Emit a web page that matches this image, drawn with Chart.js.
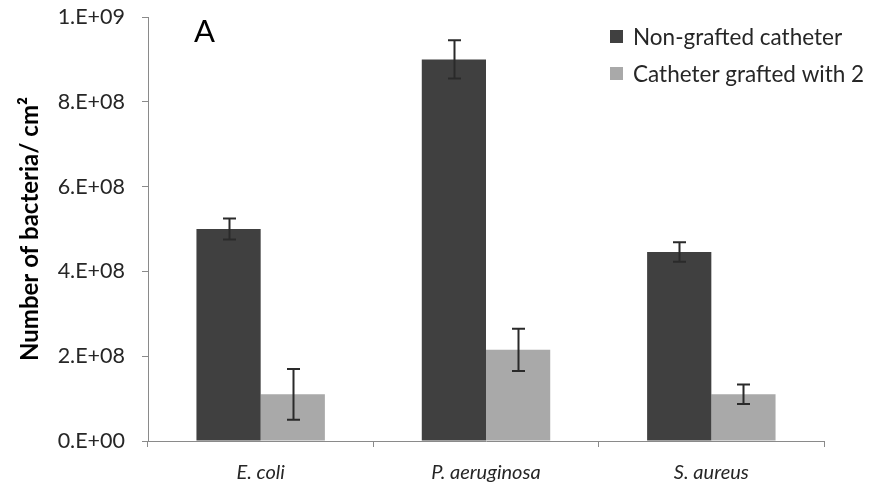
<!DOCTYPE html>
<html>
<head>
<meta charset="utf-8">
<script src="https://cdn.jsdelivr.net/npm/chart.js@4.4.1/dist/chart.umd.min.js"></script>
<style>
html,body{margin:0;padding:0;background:#fff;}
#wrap{position:relative;width:881px;height:491px;}
</style>
</head>
<body>
<div id="wrap"><canvas id="c" width="881" height="491"></canvas></div>
<script>
const categories = ['E. coli', 'P. aeruginosa', 'S. aureus'];
const seriesNames = ['Non-grafted catheter', 'Catheter grafted with 2'];
const nonGrafted = [5.0e8, 9.0e8, 4.46e8];
const nonGraftedErr = [2.5e7, 4.5e7, 2.3e7];
const grafted = [1.1e8, 2.15e8, 1.1e8];
const graftedErr = [6.0e7, 5.0e7, 2.3e7];
const yTickValues = [0, 2e8, 4e8, 6e8, 8e8, 1e9];
const yTickLabels = ['0.E+00', '2.E+08', '4.E+08', '6.E+08', '8.E+08', '1.E+09'];
const yTitle = 'Number of bacteria/ cm²';
const panelLabel = 'A';

const DARK = '#404040';
const LIGHT = '#a9a9a9';
const AXIS = '#8a8a8a';
const FONT = 'Lato, "Open Sans", sans-serif';

const errorBars = {
  id: 'errorBars',
  afterDatasetsDraw(chart) {
    const ctx = chart.ctx;
    const y = chart.scales.y;
    ctx.save();
    ctx.strokeStyle = '#2a2a2a';
    ctx.lineWidth = 2;
    chart.data.datasets.forEach((ds, di) => {
      const meta = chart.getDatasetMeta(di);
      meta.data.forEach((bar, i) => {
        const v = ds.data[i], e = ds.errors[i];
        const x = Math.round(bar.x) + 0.5;
        const yt = y.getPixelForValue(v + e);
        const yb = y.getPixelForValue(v - e);
        const cap = 6.5;
        ctx.beginPath();
        ctx.moveTo(x, yt); ctx.lineTo(x, yb);
        ctx.moveTo(x - cap, yt); ctx.lineTo(x + cap, yt);
        ctx.moveTo(x - cap, yb); ctx.lineTo(x + cap, yb);
        ctx.stroke();
      });
    });
    ctx.restore();
  }
};

const decorations = {
  id: 'decorations',
  afterDraw(chart) {
    const ctx = chart.ctx;
    ctx.save();
    ctx.fillStyle = '#000';
    ctx.font = '31px ' + FONT;
    ctx.textBaseline = 'alphabetic';
    ctx.textAlign = 'left';
    ctx.fillText(panelLabel, 194, 42);
    const colors = [DARK, LIGHT];
    const ys = [36.5, 73.5];
    ctx.font = '22.5px ' + FONT;
    ctx.textBaseline = 'middle';
    seriesNames.forEach((name, i) => {
      ctx.fillStyle = colors[i];
      ctx.fillRect(610, ys[i] - 6.5, 13, 13);
      ctx.fillStyle = '#262626';
      ctx.fillText(name, 633, ys[i] + 1);
    });
    ctx.restore();
  }
};

new Chart(document.getElementById('c'), {
  type: 'bar',
  data: {
    labels: categories,
    datasets: [
      { label: seriesNames[0], data: nonGrafted, errors: nonGraftedErr, backgroundColor: DARK, borderWidth: 0 },
      { label: seriesNames[1], data: grafted, errors: graftedErr, backgroundColor: LIGHT, borderWidth: 0 }
    ]
  },
  options: {
    responsive: false,
    animation: false,
    devicePixelRatio: 1,
    categoryPercentage: 0.57,
    barPercentage: 1.0,
    layout: { padding: { top: 17, right: 57, bottom: 0, left: 0 } },
    plugins: { legend: { display: false }, tooltip: { enabled: false } },
    scales: {
      x: {
        grid: { display: true, drawOnChartArea: false, drawTicks: true, tickLength: 6, color: AXIS, offset: true },
        border: { display: true, color: AXIS, width: 1 },
        ticks: { color: '#262626', padding: 14, font: { family: FONT, size: 20, style: 'italic' } },
        afterFit(s) { s.height = 50; }
      },
      y: {
        min: 0, max: 1e9,
        afterBuildTicks(s) { s.ticks = yTickValues.map(v => ({ value: v })); },
        grid: { display: true, drawOnChartArea: false, drawTicks: true, tickLength: 6, color: AXIS },
        border: { display: true, color: AXIS, width: 1 },
        ticks: {
          color: '#262626', padding: 17,
          font: { family: FONT, size: 21.5 },
          callback: (v, i) => yTickLabels[i]
        },
        title: {
          display: true, text: yTitle, color: '#000',
          font: { family: FONT, size: 24, weight: 'bold' },
          padding: { top: 16, bottom: 0 }
        },
        afterFit(s) { s.width = 148; s.paddingTop = 0; s.paddingBottom = 0; }
      }
    }
  },
  plugins: [errorBars, decorations]
});
</script>
</body>
</html>
